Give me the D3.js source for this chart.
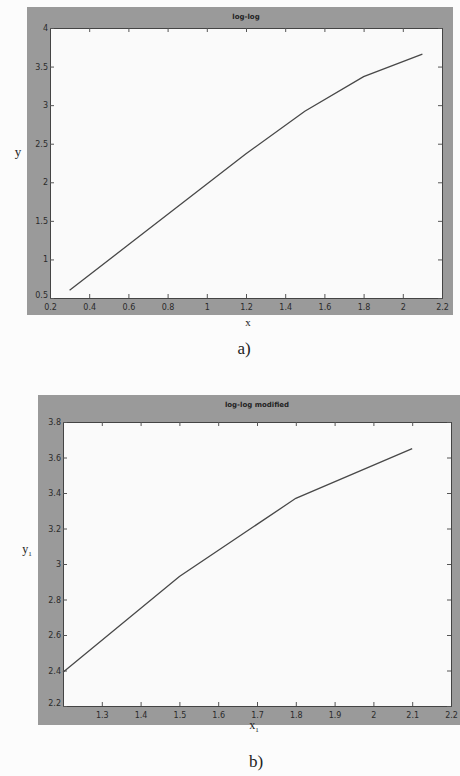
<!DOCTYPE html>
<html><head><meta charset="utf-8">
<script src="https://cdn.jsdelivr.net/npm/d3@7"></script>
<style>body{margin:0;background:#fcfcfc;}svg{display:block;}</style>
</head><body>
<script>
// Panel a: log-log
const xA = [0.3, 0.6, 0.9, 1.2, 1.5, 1.8, 2.1];
const yA = [0.6, 1.19, 1.78, 2.37, 2.92, 3.37, 3.66];
const xTicksA = [0.2, 0.4, 0.6, 0.8, 1, 1.2, 1.4, 1.6, 1.8, 2, 2.2];
const yTicksA = [0.5, 1, 1.5, 2, 2.5, 3, 3.5, 4];
// Panel b: log-log modified
const xB = [1.2, 1.5, 1.8, 2.1];
const yB = [2.39, 2.93, 3.37, 3.65];
const xTicksB = [1.2, 1.3, 1.4, 1.5, 1.6, 1.7, 1.8, 1.9, 2, 2.1, 2.2];
const yTicksB = [2.2, 2.4, 2.6, 2.8, 3, 3.2, 3.4, 3.6, 3.8];

const W = 460, H = 776;
const svg = d3.select("body").append("svg").attr("width", W).attr("height", H);

function panel(o) {
  const g = svg.append("g");
  g.append("rect").attr("x", o.fx0).attr("y", o.fy0).attr("width", o.fx1 - o.fx0).attr("height", o.fy1 - o.fy0).attr("fill", "#9a9a9a");
  const x = d3.scaleLinear().domain(o.xd).range([o.px0, o.px1]);
  const y = d3.scaleLinear().domain(o.yd).range([o.py1, o.py0]);
  g.append("rect").attr("x", o.px0).attr("y", o.py0).attr("width", o.px1 - o.px0).attr("height", o.py1 - o.py0).attr("fill", "#fafafa");
  const tk = 4;
  const xfmt = d => (o.hideFirstX && d === o.xd[0]) ? "" : String(d);
  const axB = d3.axisBottom(x).tickValues(o.xt).tickSize(-tk).tickPadding(6).tickFormat(xfmt);
  const axT = d3.axisTop(x).tickValues(o.xt).tickSize(-tk).tickFormat("");
  const axL = d3.axisLeft(y).tickValues(o.yt).tickSize(-tk).tickPadding(2).tickFormat(d => String(d));
  const axR = d3.axisRight(y).tickValues(o.yt).tickSize(-tk).tickFormat("");
  const style = s => {
    s.selectAll("path.domain").attr("stroke", "#444").attr("stroke-width", 1);
    s.selectAll(".tick line").attr("stroke", "#555");
    s.selectAll("text").attr("fill", "#2a2a2a").style("font-family", "'DejaVu Sans', sans-serif").style("font-size", "8px");
  };
  g.append("g").attr("transform", `translate(0,${o.py1})`).call(axB).call(style);
  g.append("g").attr("transform", `translate(0,${o.py0})`).call(axT).call(style);
  const gl = g.append("g").attr("transform", `translate(${o.px0},0)`).call(axL).call(style);
  // nudge the corner label up, as in the reference it sits above the x labels
  gl.selectAll(".tick").filter(d => d === o.yd[0]).select("text").attr("dy", "-0.05em");
  g.append("g").attr("transform", `translate(${o.px1},0)`).call(axR).call(style);
  const line = d3.line().x((d, i) => x(o.xs[i])).y(d => y(d));
  g.append("path").datum(o.ys).attr("d", line).attr("fill", "none").attr("stroke", "#484848").attr("stroke-width", 1.3);
  g.append("text").attr("x", (o.px0 + o.px1) / 2).attr("y", o.fy0 + 12).attr("text-anchor", "middle")
    .style("font-family", "'DejaVu Sans', sans-serif").style("font-size", "7px").style("font-weight", "bold").attr("fill", "#222").text(o.title);
  return g;
}

panel({fx0: 27, fy0: 7, fx1: 453, fy1: 315, px0: 50, px1: 442, py0: 28, py1: 298,
  xd: [0.2, 2.2], yd: [0.5, 4], xt: xTicksA, yt: yTicksA, xs: xA, ys: yA, title: "log-log", hideFirstX: false});
panel({fx0: 38, fy0: 395, fx1: 460, fy1: 725, px0: 63, px1: 451, py0: 422, py1: 706,
  xd: [1.2, 2.2], yd: [2.2, 3.8], xt: xTicksB, yt: yTicksB, xs: xB, ys: yB, title: "log-log modified", hideFirstX: true});

const serif = "'Liberation Serif', 'DejaVu Serif', serif";
svg.append("text").attr("x", 18).attr("y", 156).attr("text-anchor", "middle").style("font-family", serif).style("font-size", "13px").attr("fill", "#222").text("y");
svg.append("text").attr("x", 248).attr("y", 326).attr("text-anchor", "middle").style("font-family", serif).style("font-size", "11px").attr("fill", "#222").text("x");
svg.append("text").attr("x", 244).attr("y", 354).attr("text-anchor", "middle").style("font-family", serif).style("font-size", "17px").attr("fill", "#222").text("a)");

const y1 = svg.append("text").attr("x", 27).attr("y", 553).attr("text-anchor", "middle").style("font-family", serif).style("font-size", "12px").attr("fill", "#222");
y1.append("tspan").text("y");
y1.append("tspan").attr("dy", 3).style("font-size", "7px").text("1");
const x1 = svg.append("text").attr("x", 254).attr("y", 729).attr("text-anchor", "middle").style("font-family", serif).style("font-size", "12px").attr("fill", "#222");
x1.append("tspan").text("x");
x1.append("tspan").attr("dy", 3).style("font-size", "7px").text("1");
svg.append("text").attr("x", 256).attr("y", 767).attr("text-anchor", "middle").style("font-family", serif).style("font-size", "17px").attr("fill", "#222").text("b)");
</script>
</body></html>
